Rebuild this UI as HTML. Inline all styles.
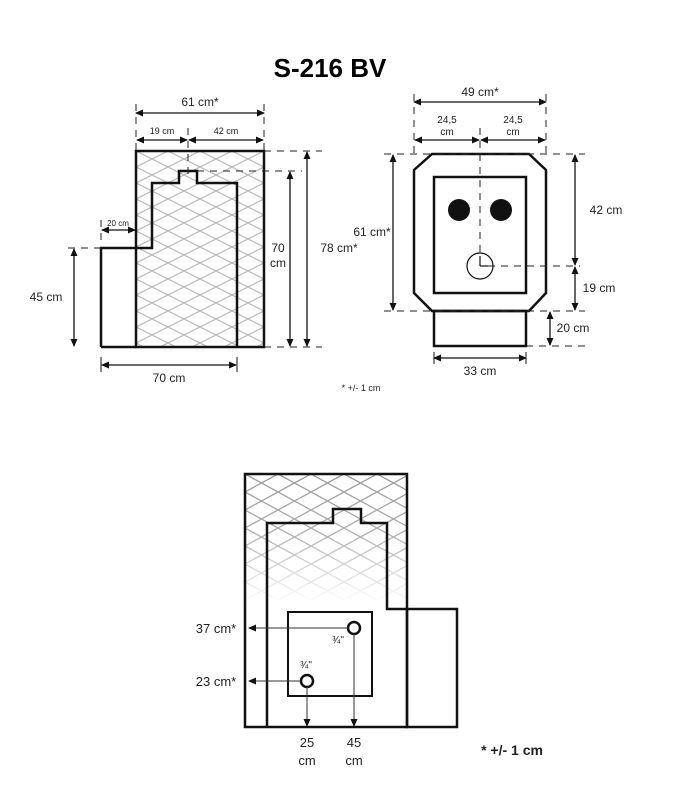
<!DOCTYPE html>
<html><head><meta charset="utf-8"><style>
html,body{margin:0;padding:0;background:#fff;}
svg{display:block;}
text{font-family:"Liberation Sans",sans-serif;fill:#222;}
</style></head><body>
<svg width="684" height="797" viewBox="0 0 684 797" xmlns="http://www.w3.org/2000/svg">
<defs>
<pattern id="hatch" width="32" height="16" patternUnits="userSpaceOnUse" x="136" y="151">
<path d="M0,0 L32,16 M0,16 L32,0" stroke="#b4b4b4" stroke-width="1.1" fill="none"/>
</pattern>
<pattern id="hatch2" width="33" height="18" patternUnits="userSpaceOnUse" x="245" y="474">
<path d="M0,0 L33,18 M0,18 L33,0" stroke="#9a9a9a" stroke-width="1.3" fill="none"/>
</pattern>
<linearGradient id="fade" x1="0" y1="0" x2="0" y2="1">
<stop offset="0" stop-color="#fff"/><stop offset="0.45" stop-color="#fff" stop-opacity="0.8"/><stop offset="1" stop-color="#fff" stop-opacity="0"/>
</linearGradient>
<mask id="m2"><rect x="245" y="474" width="162" height="130" fill="url(#fade)"/></mask>
<marker id="ar" markerWidth="8" markerHeight="8" refX="7" refY="4" orient="auto-start-reverse" markerUnits="userSpaceOnUse">
<path d="M0,0.5 L8,4 L0,7.5 z" fill="#111"/></marker>
</defs>

<text x="330" y="77" font-size="26" font-weight="bold" text-anchor="middle" style="fill:#000">S-216 BV</text>

<!-- LEFT VIEW -->
<rect x="136" y="151" width="128" height="196" fill="url(#hatch)"/>
<g fill="none" stroke="#111" stroke-width="2.5">
<rect x="136" y="151" width="128" height="196"/>
<path d="M101,347 L101,248 L152,248 L152,183 L179,183 L179,171 L197,171 L197,183 L237,183 L237,347"/>
<line x1="101" y1="347" x2="136" y2="347"/>
</g>
<g stroke="#222" stroke-width="1" stroke-dasharray="7,6" fill="none">
<line x1="264" y1="151" x2="322" y2="151"/>
<line x1="197" y1="171" x2="302" y2="171"/>
<line x1="264" y1="347" x2="322" y2="347"/>
<line x1="68" y1="248" x2="101" y2="248"/>
<line x1="136" y1="104" x2="136" y2="150"/>
<line x1="264" y1="104" x2="264" y2="150"/>
<line x1="188" y1="128" x2="188" y2="175"/>
<line x1="101" y1="220" x2="101" y2="240"/>
</g>
<g stroke="#111" stroke-width="1.3">
<line x1="136" y1="113" x2="264" y2="113" marker-start="url(#ar)" marker-end="url(#ar)"/>
<line x1="137" y1="140" x2="187" y2="140" marker-start="url(#ar)" marker-end="url(#ar)"/>
<line x1="189" y1="140" x2="263" y2="140" marker-start="url(#ar)" marker-end="url(#ar)"/>
<line x1="102" y1="230" x2="135" y2="230" marker-start="url(#ar)" marker-end="url(#ar)"/>
<line x1="290" y1="172" x2="290" y2="346" marker-start="url(#ar)" marker-end="url(#ar)"/>
<line x1="307" y1="152" x2="307" y2="346" marker-start="url(#ar)" marker-end="url(#ar)"/>
<line x1="74" y1="249" x2="74" y2="346" marker-start="url(#ar)" marker-end="url(#ar)"/>
<line x1="102" y1="365" x2="236" y2="365" marker-start="url(#ar)" marker-end="url(#ar)"/>
<line x1="101" y1="357" x2="101" y2="372" stroke-width="1"/>
<line x1="237" y1="357" x2="237" y2="372" stroke-width="1"/>
</g>
<text x="200" y="106" font-size="12" text-anchor="middle">61 cm*</text>
<text x="162" y="134" font-size="9" text-anchor="middle">19 cm</text>
<text x="226" y="134" font-size="9" text-anchor="middle">42 cm</text>
<text x="118" y="226" font-size="8" text-anchor="middle">20 cm</text>
<text x="278" y="252" font-size="12" text-anchor="middle">70</text>
<text x="278" y="267" font-size="12" text-anchor="middle">cm</text>
<text x="339" y="252" font-size="12" text-anchor="middle">78 cm*</text>
<text x="46" y="301" font-size="12" text-anchor="middle">45 cm</text>
<text x="169" y="382" font-size="12" text-anchor="middle">70 cm</text>
<text x="361" y="391" font-size="9" text-anchor="middle">* +/- 1 cm</text>

<!-- RIGHT VIEW -->
<g fill="none" stroke="#111" stroke-width="2.5">
<path d="M432,154 L529,154 L546,170 L546,293 L529,311 L432,311 L414,293 L414,170 Z"/>
<rect x="434" y="177" width="92" height="116"/>
<rect x="434" y="311" width="92" height="35"/>
</g>
<circle cx="459" cy="210" r="11" fill="#111"/>
<circle cx="501" cy="210" r="11" fill="#111"/>
<circle cx="480" cy="266" r="13" fill="none" stroke="#111" stroke-width="1.2"/>
<g stroke="#222" stroke-width="1" stroke-dasharray="7,6" fill="none">
<line x1="480" y1="128" x2="480" y2="258"/>
<line x1="488" y1="266" x2="580" y2="266"/>
<line x1="384" y1="154" x2="585" y2="154"/>
<line x1="384" y1="311" x2="585" y2="311"/>
<line x1="526" y1="346" x2="585" y2="346"/>
<line x1="414" y1="94" x2="414" y2="153"/>
<line x1="546" y1="94" x2="546" y2="153"/>
</g>
<g stroke="#111" stroke-width="1.2"><line x1="480" y1="256" x2="480" y2="266"/><line x1="480" y1="266" x2="488" y2="266"/></g>
<g stroke="#111" stroke-width="1.3">
<line x1="414" y1="102" x2="546" y2="102" marker-start="url(#ar)" marker-end="url(#ar)"/>
<line x1="415" y1="140" x2="479" y2="140" marker-start="url(#ar)" marker-end="url(#ar)"/>
<line x1="481" y1="140" x2="545" y2="140" marker-start="url(#ar)" marker-end="url(#ar)"/>
<line x1="393" y1="155" x2="393" y2="310" marker-start="url(#ar)" marker-end="url(#ar)"/>
<line x1="575" y1="155" x2="575" y2="265" marker-start="url(#ar)" marker-end="url(#ar)"/>
<line x1="575" y1="267" x2="575" y2="310" marker-start="url(#ar)" marker-end="url(#ar)"/>
<line x1="550" y1="312" x2="550" y2="345" marker-start="url(#ar)" marker-end="url(#ar)"/>
<line x1="434" y1="358" x2="526" y2="358" marker-start="url(#ar)" marker-end="url(#ar)"/>
<line x1="434" y1="352" x2="434" y2="364" stroke-width="1"/>
<line x1="526" y1="352" x2="526" y2="364" stroke-width="1"/>
</g>
<text x="480" y="96" font-size="12" text-anchor="middle">49 cm*</text>
<text x="447" y="123" font-size="10" text-anchor="middle">24,5</text>
<text x="447" y="135" font-size="10" text-anchor="middle">cm</text>
<text x="513" y="123" font-size="10" text-anchor="middle">24,5</text>
<text x="513" y="135" font-size="10" text-anchor="middle">cm</text>
<text x="372" y="236" font-size="12" text-anchor="middle">61 cm*</text>
<text x="606" y="214" font-size="12" text-anchor="middle">42 cm</text>
<text x="599" y="292" font-size="12" text-anchor="middle">19 cm</text>
<text x="573" y="332" font-size="12" text-anchor="middle">20 cm</text>
<text x="480" y="375" font-size="12" text-anchor="middle">33 cm</text>

<!-- BOTTOM VIEW -->
<rect x="245" y="474" width="162" height="130" fill="url(#hatch2)" mask="url(#m2)"/>
<g fill="none" stroke="#111" stroke-width="2.5">
<rect x="245" y="474" width="162" height="253"/>
<rect x="407" y="609" width="50" height="118"/>
<path d="M267,727 L267,523 L333,523 L333,509 L361,509 L361,523 L387,523 L387,609 L407,609"/>
<rect x="288" y="612" width="84" height="84" stroke-width="2"/>
<circle cx="354" cy="628" r="6"/>
<circle cx="307" cy="681" r="6"/>
</g>
<g stroke="#333" stroke-width="1">
<line x1="348" y1="628" x2="249" y2="628" marker-end="url(#ar)"/>
<line x1="301" y1="681" x2="249" y2="681" marker-end="url(#ar)"/>
<line x1="354" y1="634" x2="354" y2="726" marker-end="url(#ar)"/>
<line x1="307" y1="687" x2="307" y2="726" marker-end="url(#ar)"/>
</g>
<text x="216" y="633" font-size="13" text-anchor="middle">37 cm*</text>
<text x="216" y="686" font-size="13" text-anchor="middle">23 cm*</text>
<text x="338" y="643" font-size="10" text-anchor="middle">¾"</text>
<text x="306" y="668" font-size="10" text-anchor="middle">¾"</text>
<text x="307" y="747" font-size="13" text-anchor="middle">25</text>
<text x="307" y="765" font-size="13" text-anchor="middle">cm</text>
<text x="354" y="747" font-size="13" text-anchor="middle">45</text>
<text x="354" y="765" font-size="13" text-anchor="middle">cm</text>
<text x="512" y="755" font-size="14" font-weight="bold" text-anchor="middle">* +/- 1 cm</text>
</svg>
</body></html>
